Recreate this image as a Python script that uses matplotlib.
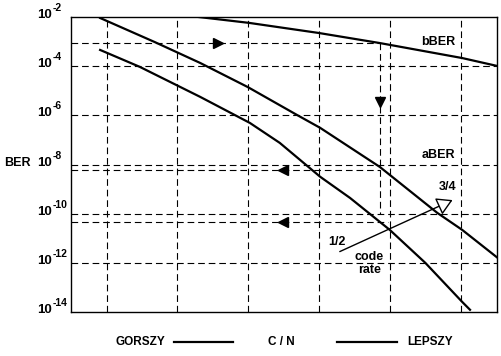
import matplotlib
matplotlib.use("Agg")
import matplotlib.pyplot as plt
import numpy as np
from matplotlib.lines import Line2D
from matplotlib.patches import FancyArrowPatch
from matplotlib.transforms import blended_transform_factory, offset_copy

plt.rcParams['font.family'] = ['Liberation Sans', 'DejaVu Sans']

# C/N position (arbitrary units, worse -> better) and log10(BER)
x_bber = [1.68, 2.51, 3.49, 4.35, 5.51, 6.0]
log_bber = [-1.96, -2.24, -2.65, -3.06, -3.67, -3.99]

x_34 = [0.41, 1.18, 1.82, 2.49, 3.18, 3.51, 4.35, 5.16, 5.51, 6.01]
log_34 = [-2.04, -3.02, -3.87, -4.85, -5.98, -6.51, -8.10, -9.97, -10.66, -11.80]

x_12 = [0.41, 0.97, 1.82, 2.52, 2.94, 3.51, 3.93, 4.49, 4.99, 5.51, 5.62]
log_12 = [-3.34, -4.03, -5.25, -6.31, -7.12, -8.50, -9.36, -10.66, -12.0, -13.59, -13.91]

ytick_exp = [-2, -4, -6, -8, -10, -12, -14]
grid_x = [0.5, 1.5, 2.5, 3.5, 4.5, 5.5]
grid_y_exp = [-4, -6, -8, -10, -12]

# reference levels
bber_level = -3.05
aber_level = -8.22
aber2_level = -10.33
x_cross_34 = 4.35
x_cross_12 = 4.46

fig = plt.figure(figsize=(5.02, 3.56), dpi=100)
ax = fig.add_axes([71 / 502, 44 / 356, 426 / 502, 295 / 356])
ax.set_yscale('log')
ax.set_xlim(0, 6)
ax.set_ylim(1e-14, 1e-2)

dash = dict(color='black', lw=0.8, ls=(0, (6, 3.5)))
for gx in grid_x:
    ax.axvline(gx, **dash)
for gy in grid_y_exp:
    ax.axhline(10.0 ** gy, **dash)

ax.plot([0, x_cross_34], [10 ** bber_level] * 2, **dash)
ax.plot([0, x_cross_34], [10 ** aber_level] * 2, **dash)
ax.plot([0, x_cross_12], [10 ** aber2_level] * 2, **dash)
ax.plot([x_cross_34, x_cross_34], [10 ** bber_level, 1e-10], **dash)

ax.plot(x_bber, 10.0 ** np.array(log_bber), color='black', lw=1.6)
ax.plot(x_34, 10.0 ** np.array(log_34), color='black', lw=1.6)
ax.plot(x_12, 10.0 ** np.array(log_12), color='black', lw=1.6)

# direction markers
ax.plot([2.07], [10 ** bber_level], marker='>', ms=7, color='black')
ax.plot([x_cross_34], [10 ** -5.46], marker='v', ms=7, color='black')
ax.plot([2.99], [10 ** aber_level], marker='<', ms=7, color='black')
ax.plot([2.99], [10 ** aber2_level], marker='<', ms=7, color='black')

# code rate arrow
arr = FancyArrowPatch((3.75, 10 ** -11.59), (5.41, 10 ** -9.40),
                      arrowstyle='-|>,head_length=6,head_width=3.5',
                      fc='white', ec='black', lw=1.0, mutation_scale=1.6)
ax.add_patch(arr)

tkw = dict(fontsize=9, fontweight='bold', ha='center', va='center')
ax.text(5.17, 10 ** -3.0, 'bBER', **tkw)
ax.text(5.17, 10 ** -7.6, 'aBER', **tkw)
ax.text(5.30, 10 ** -8.9, '3/4', **tkw)
ax.text(3.75, 10 ** -11.15, '1/2', **tkw)
ax.text(4.20, 10 ** -11.76, 'code', **tkw)
ax.text(4.20, 10 ** -12.28, 'rate', **tkw)

# y tick labels drawn as "10" plus raised exponent
ax.set_xticks([])
ax.set_yticks([])
ax.yaxis.set_minor_locator(matplotlib.ticker.NullLocator())
trans = blended_transform_factory(fig.transFigure, ax.transData)
for e in ytick_exp:
    ax.text(52 / 502, 10.0 ** e, '10', transform=offset_copy(trans, fig=fig, y=2, units='dots'),
            fontsize=9.5, fontweight='bold', ha='right', va='center', clip_on=False)
    ax.text(52.5 / 502, 10.0 ** e, '-%d' % abs(e), transform=offset_copy(trans, fig=fig, y=9, units='dots'),
            fontsize=7.5, fontweight='bold', ha='left', va='center', clip_on=False)
for s in ax.spines.values():
    s.set_linewidth(1.0)

fig.text(17 / 502, 1 - 163 / 356, 'BER', fontsize=9, fontweight='bold',
         ha='center', va='center')

by = 1 - 342 / 356
fig.text(140 / 502, by, 'GORSZY', fontsize=8.5, fontweight='bold', ha='center', va='center')
fig.text(281 / 502, by, 'C / N', fontsize=8.5, fontweight='bold', ha='center', va='center')
fig.text(430 / 502, by, 'LEPSZY', fontsize=8.5, fontweight='bold', ha='center', va='center')
fig.add_artist(Line2D([174 / 502, 233 / 502], [by, by], color='black', lw=1.6))
fig.add_artist(Line2D([337 / 502, 397 / 502], [by, by], color='black', lw=1.6))

fig.savefig('out.png', dpi=100)
